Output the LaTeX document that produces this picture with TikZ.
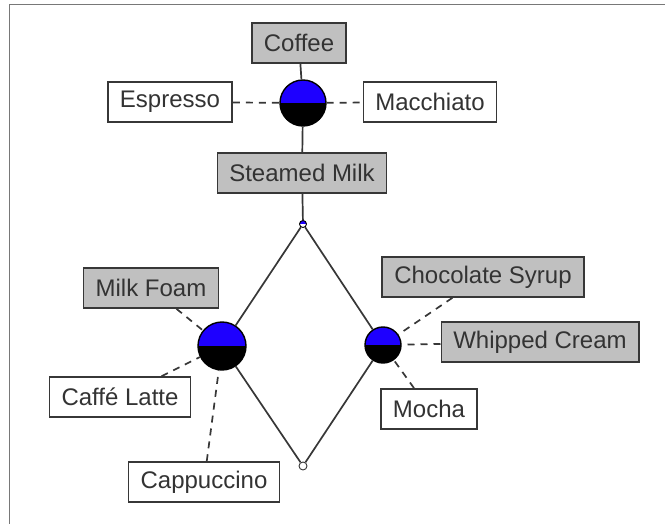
\documentclass[tikz,border=0pt]{standalone}
\usepackage{fontspec}
\setmainfont{Liberation Sans}
\definecolor{JoinBlue}{RGB}{30, 0, 255}
\definecolor{BoxGray}{RGB}{192, 192, 192}
\definecolor{EdgeGray}{RGB}{55, 55, 55}
\definecolor{FrameGray}{RGB}{120, 120, 120}
\usetikzlibrary{positioning}

\begin{document}
\begin{tikzpicture}[
        x=1pt, y=-1pt,
        item/.style={draw=EdgeGray, fill=white, rectangle, line width=1.6pt, inner xsep=12pt, minimum height=40pt, font=\fontsize{24}{27}\selectfont, text=black!80},
        part/.style={item, fill=BoxGray},
        joint/.style={circle, draw=black, line width=1.4pt, fill=black, inner sep=0pt, path picture={\fill[JoinBlue] (path picture bounding box.west) rectangle (path picture bounding box.north east);}},
        link/.style={line width=1.7pt, color=EdgeGray},
        hint/.style={link, dash pattern=on 7pt off 6pt}
      ]
        \useasboundingbox (0,0) rectangle (665,524);
        \draw [FrameGray, line width=1pt] (9,524) -- (9,5) -- (665,5);

        % top junction
        \node (coffee) [part] at (299,43) {Coffee};
        \node (espresso) [item] at (170,102) {Espresso};
        \node (macchiato) [item] at (430,102) {Macchiato};
        \node (j1) [joint, minimum size=46pt] at (303,103) {};
        \node (steamed) [part] at (302,173) {Steamed Milk};
        \node (split) [joint, fill=white, line width=0.9pt, minimum size=7pt] at (303,224) {};
        \node (merge) [circle, draw=EdgeGray, fill=white, line width=0.9pt, inner sep=0pt, minimum size=8pt] at (303,466) {};

        % left junction
        \node (j2) [joint, minimum size=48pt] at (222,346) {};
        \node (foam) [part] at (151,288) {Milk Foam};
        \node (latte) [item] at (120,397) {Caffé Latte};
        \node (cappuccino) [item] at (204,482) {Cappuccino};

        % right junction
        \node (j3) [joint, minimum size=36pt] at (383,345) {};
        \node (syrup) [part] at (483,277) {Chocolate Syrup};
        \node (cream) [part] at (540,342) {Whipped Cream};
        \node (mocha) [item] at (429,409) {Mocha};

        \draw [link] (coffee) -- (j1);
        \draw [link] (j1) -- (steamed);
        \draw [link] (steamed) -- (split);
        \draw [link] (split) -- (j2);
        \draw [link] (split) -- (j3);
        \draw [link] (j2) -- (merge);
        \draw [link] (j3) -- (merge);

        \draw [hint] (espresso) -- (j1);
        \draw [hint] (j1) -- (macchiato);
        \draw [hint] (foam) -- (j2);
        \draw [hint] (latte) -- (j2);
        \draw [hint] (cappuccino) -- (j2);
        \draw [hint] (syrup) -- (j3);
        \draw [hint] (cream) -- (j3);
        \draw [hint] (mocha) -- (j3);
      \end{tikzpicture}
\end{document}
